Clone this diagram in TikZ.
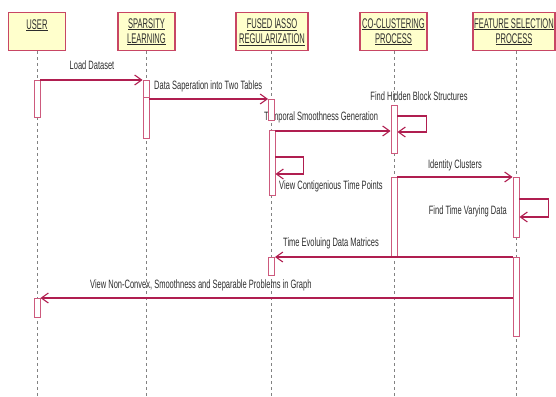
\documentclass[tikz,border=0pt]{standalone}
\usepackage{fontspec}
\setmainfont{Liberation Sans}[FakeStretch=0.62]
\newfontfamily\headfont{Liberation Sans}[FakeStretch=0.54]
\usetikzlibrary{arrows.meta}
\definecolor{boxline}{RGB}{200,70,100}
\definecolor{boxfill}{RGB}{255,255,204}
\definecolor{msgline}{RGB}{176,30,80}
\definecolor{actline}{RGB}{205,90,125}
\definecolor{lifegray}{RGB}{130,130,130}
\definecolor{txt}{RGB}{45,45,45}
\begin{document}
\begin{tikzpicture}[x=1pt,y=-1pt,
  obj/.style={draw=boxline, line width=1.2pt, fill=boxfill, minimum height=38pt,
    inner sep=0pt, align=center, font=\headfont\fontsize{14}{15}\selectfont, text=txt},
  life/.style={draw=lifegray, line width=0.9pt, dash pattern=on 3pt off 3pt},
  act/.style={draw=actline, fill=white, line width=0.9pt, minimum width=6pt, inner sep=0pt},
  msg/.style={draw=msgline, line width=1.1pt, -{Straight Barb[length=7pt,width=10pt]}},
  lbl/.style={font=\fontsize{12.1}{13}\selectfont, text=txt, inner sep=0pt},
]
\useasboundingbox (0,0) rectangle (556,396);

% object heads
\node[obj, minimum width=57pt] (user) at (37,31.7) {\underline{USER}\\ \mbox{}};
\node[obj, minimum width=57pt] (spars) at (146.5,31.7) {\underline{SPARSITY}\\ \underline{LEARNING}};
\node[obj, minimum width=72pt] (fused) at (272,31.7) {\underline{FUSED lASSO}\\ \underline{REGULARIZATION}};
\node[obj, minimum width=67pt] (cocl) at (393.5,31.7) {\underline{CO-CLUSTERING}\\ \underline{PROCESS}};
\node[obj, minimum width=82pt] (feat) at (514,31.7) {\underline{FEATURE SELECTION}\\ \underline{PROCESS}};

% lifeline axes
\coordinate (userX) at (37,0);
\coordinate (sparsX) at (146,0);
\coordinate (fusedX) at (271.5,0);
\coordinate (coclX) at (394,0);
\coordinate (featX) at (516,0);
\coordinate (bottom) at (0,396);

\foreach \o/\x in {user/userX, spars/sparsX, fused/fusedX, cocl/coclX, feat/featX}
  \draw[life] (\x |- \o.south) -- (\x |- bottom);

% message texts
\node[lbl, anchor=base] (t1) at (92,69) {Load Dataset};
\node[lbl, anchor=base west] (t2) at (154,89) {Data Saperation into Two Tables};
\node[lbl, anchor=base west] (t3) at (264,120) {Temporal Smoothness Generation};
\node[lbl, anchor=base] (t4) at (419,100) {Find Hidden Block Structures};
\node[lbl, anchor=base west] (t5) at (279,189) {View Contigenious Time Points};
\node[lbl, anchor=base] (t6) at (455,168) {Identity Clusters};
\node[lbl, anchor=base east] (t7) at (507,214) {Find Time Varying Data};
\node[lbl, anchor=base west] (t8) at (283,246) {Time Evoluing Data Matrices};
\node[lbl, anchor=base west] (t9) at (90,288) {View Non-Convex, Smoothness and Separable Problems in Graph};

% activation bars
\node[act, minimum height=37pt] (u1) at (37,98.5) {};
\node[act, minimum height=17pt] (s1) at (146,88.5) {};
\node[act, minimum height=41pt] (s2) at (146,117.5) {};
\node[act, minimum height=21pt] (f1) at (271.5,109.5) {};
\node[act, minimum height=65pt] (f2) at (272,162.5) {};
\node[act, minimum height=48pt] (c1) at (394,129) {};
\node[act, minimum height=79pt] (c2) at (394,216.5) {};
\node[act, minimum height=60pt] (e1) at (516,207) {};
\node[act, minimum height=79pt] (e2) at (516,296.5) {};
\node[act, minimum height=18pt] (f3) at (271.5,266) {};
\node[act, minimum height=19pt] (u2) at (37,307.5) {};

% messages
\draw[msg] (u1.east |- 0,80) -- (s1.west |- 0,80);
\draw[msg] (s2.east |- 0,99) -- (f1.west |- 0,99);
\draw[msg] (f2.east |- 0,131) -- (c1.west |- 0,131);
\draw[msg] (c1.east |- 0,116) -- ++(29,0) -- ++(0,16) -- (c1.east |- 0,132);
\draw[msg] (f2.east |- 0,157) -- ++(28,0) -- ++(0,17) -- (f2.east |- 0,174);
\draw[msg] (c2.east |- 0,177) -- (e1.west |- 0,177);
\draw[msg] (e1.east |- 0,199) -- ++(29,0) -- ++(0,18) -- (e1.east |- 0,217);
\draw[msg] (e2.west |- 0,257) -- (f3.east |- 0,257);
\draw[msg] (e2.west |- 0,298) -- (u2.east |- 0,298);
\end{tikzpicture}
\end{document}
